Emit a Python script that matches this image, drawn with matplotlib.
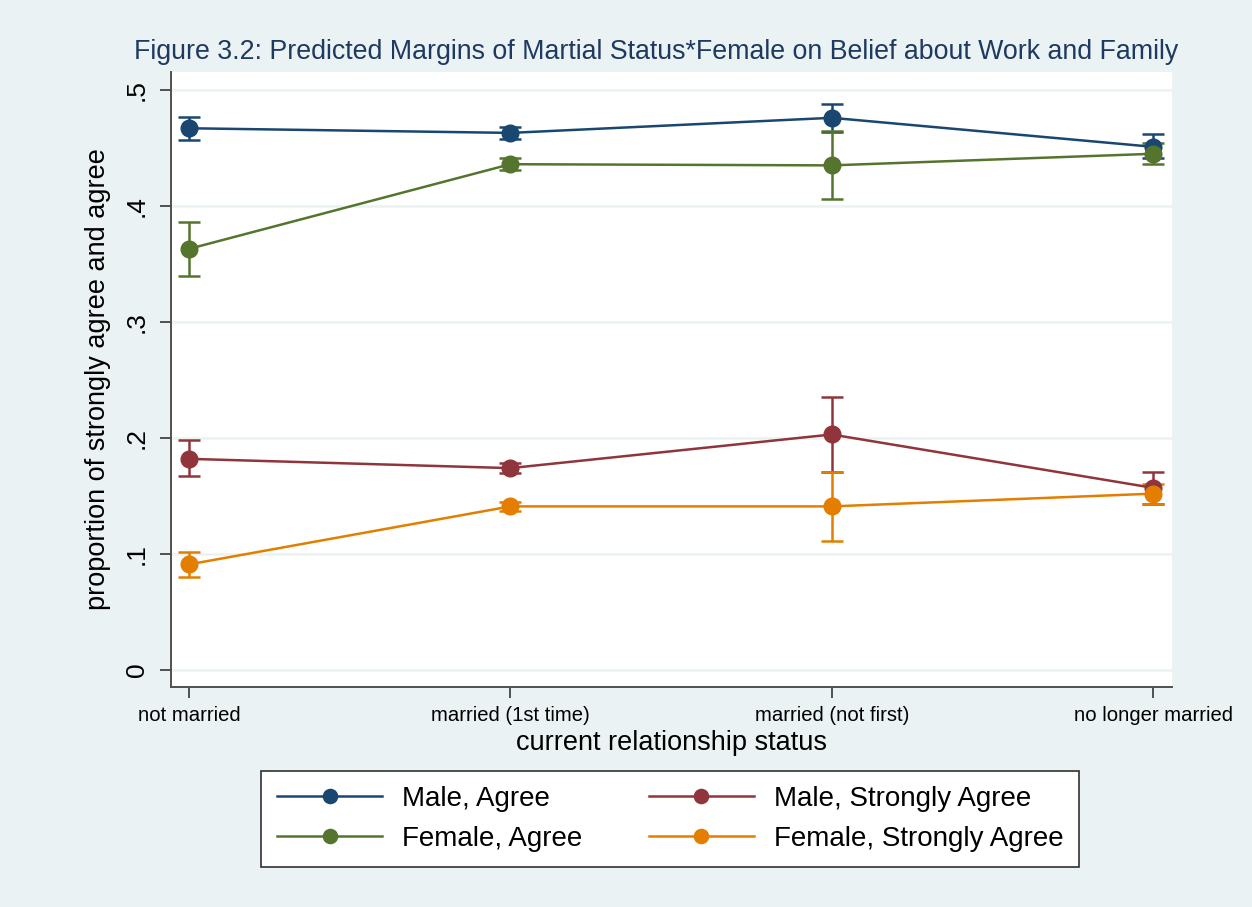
import matplotlib
matplotlib.use("Agg")
import matplotlib.pyplot as plt
import numpy as np

# ---------------------------------------------------------------------------
# Data
# ---------------------------------------------------------------------------
categories = ["not married", "married (1st time)", "married (not first)", "no longer married"]

male_agree      = [0.467, 0.463, 0.476, 0.451]
male_agree_lo   = [0.457, 0.458, 0.464, 0.441]
male_agree_hi   = [0.477, 0.468, 0.488, 0.462]

female_agree    = [0.363, 0.436, 0.435, 0.445]
female_agree_lo = [0.340, 0.431, 0.406, 0.436]
female_agree_hi = [0.386, 0.441, 0.465, 0.454]

male_sa         = [0.182, 0.174, 0.203, 0.157]
male_sa_lo      = [0.167, 0.170, 0.171, 0.143]
male_sa_hi      = [0.198, 0.178, 0.235, 0.171]

female_sa       = [0.091, 0.141, 0.141, 0.152]
female_sa_lo    = [0.080, 0.137, 0.111, 0.143]
female_sa_hi    = [0.102, 0.145, 0.171, 0.160]

series = [
    ("Male, Agree", male_agree, male_agree_lo, male_agree_hi, "#1a476f"),
    ("Female, Agree", female_agree, female_agree_lo, female_agree_hi, "#55752f"),
    ("Male, Strongly Agree", male_sa, male_sa_lo, male_sa_hi, "#90353b"),
    ("Female, Strongly Agree", female_sa, female_sa_lo, female_sa_hi, "#e37e00"),
]

y_ticks = [0, 0.1, 0.2, 0.3, 0.4, 0.5]
y_tick_labels = ["0", ".1", ".2", ".3", ".4", ".5"]

# ---------------------------------------------------------------------------
# Plot
# ---------------------------------------------------------------------------
plt.rcParams["font.family"] = ["Liberation Sans", "DejaVu Sans"]
BG = "#eaf2f3"

fig = plt.figure(figsize=(12.52, 9.07), dpi=100, facecolor=BG)
ax = fig.add_axes([171 / 1252, 1 - 687 / 907, (1172 - 171) / 1252, (687 - 72) / 907])
ax.set_facecolor("white")

x = np.arange(len(categories))
handles = {}
for label, vals, lo, hi, color in series:
    vals = np.array(vals)
    yerr = np.vstack([vals - np.array(lo), np.array(hi) - vals])
    ax.errorbar(x, vals, yerr=yerr, fmt="none", ecolor=color, elinewidth=1.8,
                capsize=8, capthick=1.8, zorder=3)
    h, = ax.plot(x, vals, color=color, lw=1.8, marker="o", markersize=12,
                 markeredgecolor=color, zorder=4, label=label)
    handles[label] = h

ax.set_xlim(-0.056, 3.059)
ax.set_ylim(-0.0147, 0.5155)

ax.set_yticks(y_ticks)
ax.set_yticklabels(y_tick_labels, rotation=90, va="center", fontsize=19)
ax.set_xticks(x)
ax.set_xticklabels(categories, fontsize=14.6)

ax.grid(axis="y", color=BG, lw=1.8)
ax.set_axisbelow(True)
for side in ["top", "right"]:
    ax.spines[side].set_visible(False)
for side in ["left", "bottom"]:
    ax.spines[side].set_color("#505050")
    ax.spines[side].set_linewidth(1.4)
ax.tick_params(axis="both", colors="#505050", labelcolor="black",
               length=8, width=1.4, direction="out")
ax.tick_params(axis="y", pad=8)
ax.tick_params(axis="x", pad=6)

ax.set_ylabel("proportion of strongly agree and agree", fontsize=19.5, labelpad=10)
ax.set_xlabel("current relationship status", fontsize=19.5, labelpad=3)

fig.text(0.524, 1 - 52 / 907,
         "Figure 3.2: Predicted Margins of Martial Status*Female on Belief about Work and Family",
         ha="center", va="center", fontsize=19.3, color="#1e3a60")

order = ["Male, Agree", "Female, Agree", "Male, Strongly Agree", "Female, Strongly Agree"]
leg = fig.legend([handles[k] for k in order], order, ncol=2,
                 loc="center", bbox_to_anchor=(670 / 1252, 1 - 819 / 907),
                 fontsize=20, frameon=True, fancybox=False, edgecolor="#303030",
                 framealpha=1.0, handlelength=3.8, columnspacing=2.4,
                 handletextpad=0.7, labelspacing=0.5, borderpad=0.55,
                 borderaxespad=0.0, markerscale=0.85)
leg.get_frame().set_linewidth(1.2)

fig.savefig("out.png", dpi=100, facecolor=BG)
